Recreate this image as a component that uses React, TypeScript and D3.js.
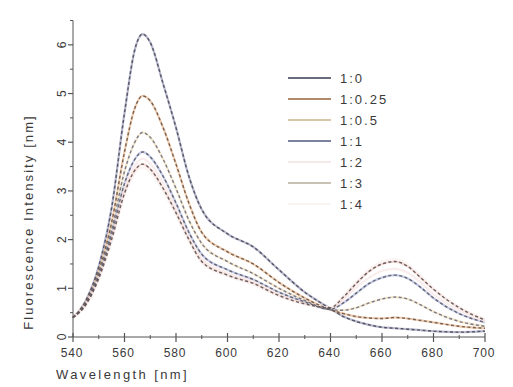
import React from "react";
import * as d3 from "d3";

const wavelengths = [540,545,550,555,560,564,567,570,575,580,585,590,600,610,620,630,640,645,650,655,660,665,670,675,680,690,700];

const ratio_1_0 = [0.40,0.75,1.45,2.65,4.60,5.90,6.22,6.05,5.20,4.30,3.30,2.62,2.12,1.85,1.38,0.92,0.58,0.42,0.32,0.25,0.20,0.18,0.16,0.14,0.12,0.10,0.12];
const ratio_1_025 = [0.40,0.72,1.35,2.35,3.80,4.70,4.95,4.85,4.30,3.55,2.75,2.15,1.75,1.50,1.12,0.80,0.56,0.48,0.42,0.39,0.38,0.40,0.38,0.34,0.30,0.22,0.18];
const ratio_1_05 = [0.40,0.70,1.30,2.20,3.40,4.00,4.20,4.10,3.65,3.05,2.40,1.92,1.55,1.30,1.00,0.75,0.56,0.55,0.60,0.70,0.78,0.82,0.78,0.66,0.52,0.32,0.22];
const ratio_1_1 = [0.40,0.68,1.25,2.10,3.15,3.65,3.80,3.70,3.30,2.75,2.15,1.70,1.38,1.18,0.92,0.72,0.57,0.70,0.90,1.10,1.22,1.27,1.20,1.02,0.80,0.48,0.30];
const ratio_1_2 = [0.40,0.67,1.22,2.05,3.05,3.52,3.66,3.56,3.16,2.64,2.06,1.62,1.32,1.14,0.88,0.70,0.58,0.76,1.02,1.22,1.36,1.40,1.32,1.12,0.88,0.54,0.32];
const ratio_1_3 = [0.40,0.66,1.20,2.00,2.95,3.42,3.55,3.45,3.05,2.55,2.00,1.55,1.27,1.10,0.85,0.68,0.60,0.82,1.10,1.35,1.50,1.55,1.45,1.22,0.98,0.60,0.35];
const ratio_1_4 = [0.40,0.65,1.18,1.96,2.90,3.36,3.48,3.38,3.00,2.50,1.96,1.52,1.25,1.08,0.84,0.67,0.61,0.85,1.14,1.40,1.55,1.60,1.50,1.26,1.01,0.62,0.36];

const seriesNames = ["1:0", "1:0.25", "1:0.5", "1:1", "1:2", "1:3", "1:4"];
const seriesValues = [ratio_1_0, ratio_1_025, ratio_1_05, ratio_1_1, ratio_1_2, ratio_1_3, ratio_1_4];
const legendColors = ["#6b6b80", "#b08a6a", "#d6c8a8", "#7a82a0", "#f3e9e9", "#c8c2b4", "#f8f4f0"];
const underColors = ["#9a9ab8", "#e8b890", "#f0dcb8", "#a8b4d8", "#f6e6e6", "#f0c8c0", "#f8f0ee"];
const dashColors = ["#4a4a5a", "#6a5548", "#6a6e80", "#5e5a66", null, "#5a5050", null];

const xTicks = [540,560,580,600,620,640,660,680,700];
const yTicks = [0,1,2,3,4,5,6];

const W = 513, H = 387;

export default function App() {
  const x = d3.scaleLinear().domain([540, 700]).range([73, 485]);
  const y = d3.scaleLinear().domain([0, 6.5]).range([337, 20.5]);
  const line = d3.line<number>()
    .x((_, i) => x(wavelengths[i]))
    .y((d) => y(d))
    .curve(d3.curveMonotoneX);

  const xMinor = d3.range(540, 701, 10).filter((v) => !xTicks.includes(v));
  const yMinor = d3.range(0.5, 6.6, 1);
  const font = "'Liberation Sans', Arial, sans-serif";
  const txt = "#3a3a3a";

  return (
    <svg width={W} height={H} style={{ position: "absolute", left: 0, top: 0, background: "#fff" }}>
      {/* colored underlay lines */}
      {seriesValues.map((vals, i) => (
        <path key={"u" + i} d={line(vals) || ""} fill="none" stroke={underColors[i]} strokeWidth={2.2} opacity={0.7} />
      ))}
      {/* dashed overlay */}
      {seriesValues.map((vals, i) =>
        dashColors[i] ? (
          <path key={"d" + i} d={line(vals) || ""} fill="none" stroke={dashColors[i] as string} strokeWidth={1.4} strokeDasharray="3,2.5" opacity={0.9} />
        ) : null
      )}

      {/* axes */}
      <line x1={73} x2={73} y1={y(6.5)} y2={y(0)} stroke="#555" strokeWidth={1} />
      <line x1={73} x2={485} y1={337} y2={337} stroke="#555" strokeWidth={1} />
      {yTicks.map((t) => (
        <g key={"yt" + t}>
          <line x1={68} x2={73} y1={y(t)} y2={y(t)} stroke="#555" strokeWidth={1.2} />
          <text
            x={0}
            y={0}
            transform={`translate(66,${y(t)}) rotate(-90)`}
            textAnchor="middle"
            fontSize={12}
            fontFamily={font}
            fill={txt}
          >
            {t}
          </text>
        </g>
      ))}
      {yMinor.map((t) => (
        <line key={"ym" + t} x1={70} x2={73} y1={y(t)} y2={y(t)} stroke="#555" strokeWidth={1} />
      ))}
      {xTicks.map((t) => (
        <g key={"xt" + t}>
          <line x1={x(t)} x2={x(t)} y1={333} y2={342} stroke="#555" strokeWidth={1.2} />
          <text x={x(t) - 1} y={357} textAnchor="middle" fontSize={12} fontFamily={font} fill={txt} letterSpacing={0.8}>
            {t}
          </text>
        </g>
      ))}
      {xMinor.map((t) => (
        <line key={"xm" + t} x1={x(t)} x2={x(t)} y1={335} y2={339} stroke="#555" strokeWidth={1} />
      ))}

      {/* axis titles */}
      <text x={56} y={379} fontSize={13} fontFamily={font} fill={txt} letterSpacing={2.4}>
        Wavelength [nm]
      </text>
      <text
        transform={`translate(33,222) rotate(-90)`}
        textAnchor="middle"
        fontSize={13}
        fontFamily={font}
        fill={txt}
        letterSpacing={2.1}
      >
        Fluorescence Intensity [nm]
      </text>

      {/* legend */}
      {seriesNames.map((name, i) => {
        const ly = 78 + i * 21;
        return (
          <g key={"lg" + i}>
            <line x1={288} x2={331} y1={ly} y2={ly} stroke={legendColors[i]} strokeWidth={2} />
            <text x={340} y={ly + 5} fontSize={13} fontFamily={font} fill={txt} letterSpacing={2}>
              {name}
            </text>
          </g>
        );
      })}
    </svg>
  );
}
